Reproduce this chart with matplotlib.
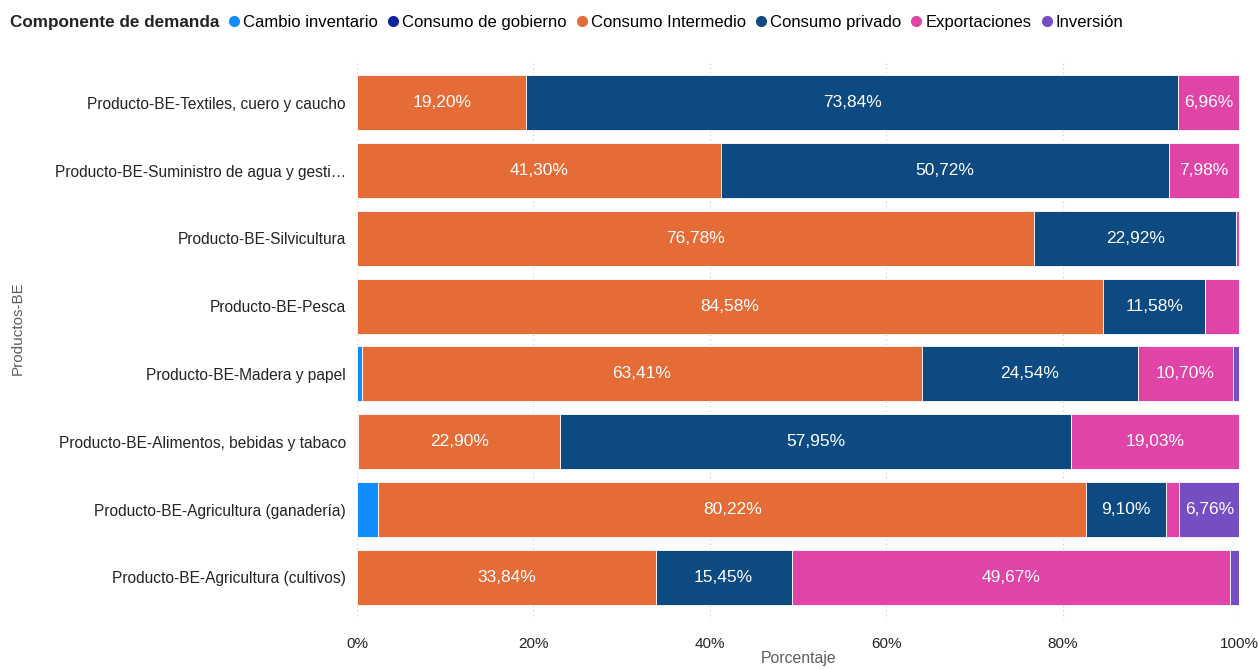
import numpy as np
import matplotlib.pyplot as plt
from matplotlib.lines import Line2D

plt.rcParams['font.family'] = ['Liberation Sans', 'DejaVu Sans']

productos = [
    "Producto-BE-Textiles, cuero y caucho",
    "Producto-BE-Suministro de agua y gesti…",
    "Producto-BE-Silvicultura",
    "Producto-BE-Pesca",
    "Producto-BE-Madera y papel",
    "Producto-BE-Alimentos, bebidas y tabaco",
    "Producto-BE-Agricultura (ganadería)",
    "Producto-BE-Agricultura (cultivos)",
]

componentes = ["Cambio inventario", "Consumo de gobierno", "Consumo Intermedio",
               "Consumo privado", "Exportaciones", "Inversión"]
colores = ["#118DFF", "#12239E", "#E66C37", "#0D4A82", "#E044A7", "#744EC2"]

cambio_inventario = [0.00, 0.00, 0.00, 0.00, 0.60, 0.12, 2.42, 0.00]
consumo_gobierno = [0.00, 0.00, 0.00, 0.00, 0.00, 0.00, 0.00, 0.00]
consumo_intermedio = [19.20, 41.30, 76.78, 84.58, 63.41, 22.90, 80.22, 33.84]
consumo_privado = [73.84, 50.72, 22.92, 11.58, 24.54, 57.95, 9.10, 15.45]
exportaciones = [6.96, 7.98, 0.30, 3.84, 10.70, 19.03, 1.50, 49.67]
inversion = [0.00, 0.00, 0.00, 0.00, 0.75, 0.00, 6.76, 1.04]

series = [cambio_inventario, consumo_gobierno, consumo_intermedio,
          consumo_privado, exportaciones, inversion]

fig = plt.figure(figsize=(12.58, 6.70), dpi=100)
ax = fig.add_axes([0.2838, 0.0746, 0.7012, 0.8358])

y = np.arange(len(productos))
left = np.zeros(len(productos))
for nombre, vals, col in zip(componentes, series, colores):
    vals = np.array(vals)
    ax.barh(y, vals, left=left, height=0.81, color=col, edgecolor='white',
            linewidth=0.6, label=nombre, zorder=2)
    for yi, l, v in zip(y, left, vals):
        if v >= 5:
            ax.text(l + v / 2, yi, f"{v:.2f}%".replace('.', ','), ha='center',
                    va='center', color='white', fontsize=12.5, zorder=3)
    left += vals

ax.set_xlim(0, 100)
ax.set_ylim(7.63, -0.63)
ax.set_yticks(y)
ax.set_yticklabels(productos, fontsize=11.2, color='#252423')
ax.set_xticks(np.arange(0, 101, 20))
ax.set_xticklabels([f"{t}%" for t in range(0, 101, 20)], fontsize=11, color='#252423')
ax.tick_params(length=0, pad=8)
ax.tick_params(axis='x', pad=12)
ax.grid(axis='x', color='#C8C8C8', linestyle=(0, (1, 3)), linewidth=0.8, zorder=0)
for s in ax.spines.values():
    s.set_visible(False)

ax.set_xlabel("Porcentaje", fontsize=11.4, color='#605E5C', labelpad=0)
fig.text(0.014, 0.51, "Productos-BE", rotation=90, ha='center', va='center',
         fontsize=11, color='#605E5C')

# leyenda
fig.text(0.008, 0.967, "Componente de demanda", fontsize=12.3, fontweight='bold',
         ha='left', va='center', color='#252423')
handles = [Line2D([], [], marker='o', linestyle='', markersize=7, color=c) for c in colores]
fig.legend(handles, componentes, loc='center left', bbox_to_anchor=(0.178, 0.967),
           ncol=6, frameon=False, fontsize=12, handletextpad=-0.05,
           columnspacing=0.3, handlelength=1.2, borderpad=0, borderaxespad=0)

fig.savefig("out.png", dpi=100)
